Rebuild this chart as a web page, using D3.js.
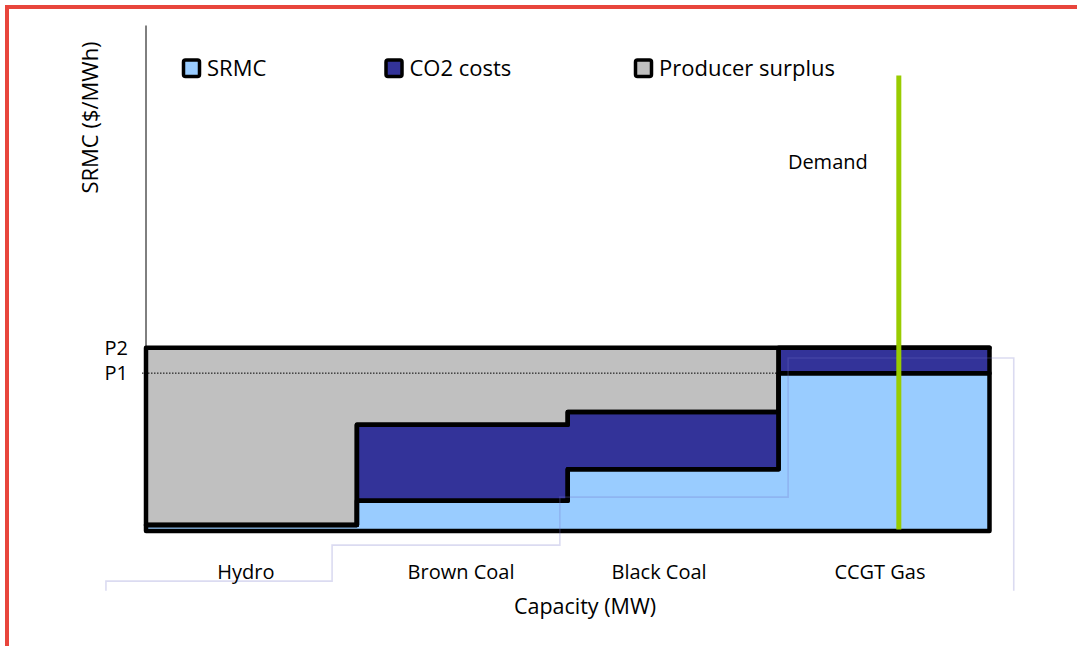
<!DOCTYPE html>
<html>
<head>
<meta charset="utf-8">
<script src="https://cdn.jsdelivr.net/npm/d3@7"></script>
<style>
  html, body { margin: 0; padding: 0; background: #ffffff; }
  svg { display: block; font-family: "Open Sans", "Noto Sans", sans-serif; }
</style>
</head>
<body>
<svg id="chart" width="1077" height="646"></svg>
<script>
// ---------------- data ----------------
const categories   = ["Hydro", "Brown Coal", "Black Coal", "CCGT Gas"];
const capacityMW   = [2000, 2000, 2000, 2000];
const srmcValues   = [1.2, 6, 12.2, 31.2];     // $/MWh
const co2Values    = [0, 15, 11.3, 5];         // $/MWh
const surplusValues = [35, 15.2, 12.7, 0];     // $/MWh (up to P2)
const priceLabels  = ["P2", "P1"];
const priceValues  = [36.2, 31.2];
const demandMW     = 7140;
const categoryTickMW = [948, 2988, 4866, 6961];
const seriesNames  = ["SRMC", "CO2 costs", "Producer surplus"];
// faint offset step outline visible in the original graphic
const ghostCapacityMW = [-380, 1765, 3925, 6090, 8230];
const ghostLevels     = [-9.9, -2.8, 6.7, 34.2];
const ghostEndLevel   = -11.8;

// ---------------- layout ----------------
const W = 1077, H = 646;
const colors = { "SRMC": "#99ccff", "CO2 costs": "#333399", "Producer surplus": "#c0c0c0" };
const legendBoxX = [183.5, 386, 635.5];

const svg = d3.select("#chart");
svg.append("rect").attr("width", W).attr("height", H).attr("fill", "#fff");

const totalMW = d3.sum(capacityMW);
const x = d3.scaleLinear().domain([0, totalMW]).range([146, 989.5]);
const y = d3.scaleLinear().domain([0, 100]).range([531, 25]);

// y axis (no ticks)
svg.append("g")
  .attr("transform", "translate(145.5,0)")
  .call(d3.axisLeft(y).tickValues([]).tickSizeOuter(0))
  .call(g => g.select(".domain").attr("stroke", "#000").attr("stroke-width", 1));

// stacked step areas
const rows = categories.map((c, i) => ({ category: c, "SRMC": srmcValues[i], "CO2 costs": co2Values[i], "Producer surplus": surplusValues[i] }));
const layers = d3.stack().keys(seriesNames)(rows);
const bounds = [0, ...Array.from(d3.cumsum(capacityMW))];

const area = d3.area()
  .curve(d3.curveStepAfter)
  .x(d => x(d.x)).y0(d => y(d.y0)).y1(d => y(d.y1));

const layerPts = layers.map(L => {
  const pts = L.map((d, i) => ({ x: bounds[i], y0: d[0], y1: d[1] }));
  const last = L[L.length - 1];
  pts.push({ x: bounds[bounds.length - 1], y0: last[0], y1: last[1] });
  return { key: L.key, pts };
});

const gAreas = svg.append("g");
gAreas.selectAll("path.fill").data(layerPts).join("path")
  .attr("class", "fill")
  .attr("d", d => area(d.pts))
  .attr("fill", d => colors[d.key]);

// P1 dotted line
svg.append("line")
  .attr("x1", x(0) - 4).attr("x2", x(bounds[3]) - 2)
  .attr("y1", y(priceValues[1])).attr("y2", y(priceValues[1]))
  .attr("stroke", "#000").attr("stroke-width", 1)
  .attr("stroke-dasharray", "1.5,1.5");

svg.append("g").selectAll("path.outline").data(layerPts).join("path")
  .attr("class", "outline")
  .attr("d", d => area(d.pts))
  .attr("fill", "none")
  .attr("stroke", "#000")
  .attr("stroke-width", 4.5)
  .attr("stroke-linejoin", "round");

// ghost step outline
const ghostPts = [{ x: ghostCapacityMW[0], v: ghostEndLevel }];
ghostLevels.forEach((v, i) => {
  ghostPts.push({ x: ghostCapacityMW[i], v });
  ghostPts.push({ x: ghostCapacityMW[i + 1], v });
});
ghostPts.push({ x: ghostCapacityMW[ghostCapacityMW.length - 1], v: ghostEndLevel });
svg.append("path")
  .attr("d", d3.line().x(d => x(d.x)).y(d => y(d.v))(ghostPts))
  .attr("fill", "none")
  .attr("stroke", "rgba(110,110,200,0.25)")
  .attr("stroke-width", 1.6);

// demand line
svg.append("line")
  .attr("x1", x(demandMW)).attr("x2", x(demandMW))
  .attr("y1", y(90)).attr("y2", y(0.3))
  .attr("stroke", "#99cc00").attr("stroke-width", 5);
svg.append("text")
  .attr("x", x(demandMW) - 71).attr("y", 169)
  .attr("text-anchor", "middle")
  .attr("font-size", 20).attr("fill", "#000")
  .text("Demand");

// price labels
svg.selectAll("text.price").data(priceLabels).join("text")
  .attr("class", "price")
  .attr("x", 128)
  .attr("y", (d, i) => y(priceValues[i]) + 7)
  .attr("text-anchor", "end")
  .attr("font-size", 20).attr("fill", "#000")
  .text(d => d);

// category labels
svg.selectAll("text.cat").data(categories).join("text")
  .attr("class", "cat")
  .attr("x", (d, i) => x(categoryTickMW[i]))
  .attr("y", 579)
  .attr("text-anchor", "middle")
  .attr("font-size", 20).attr("fill", "#000")
  .text(d => d);

// axis titles
svg.append("text")
  .attr("x", 585).attr("y", 614)
  .attr("text-anchor", "middle")
  .attr("font-size", 21.5).attr("fill", "#000")
  .text("Capacity (MW)");
svg.append("text")
  .attr("transform", "translate(98,117.5) rotate(-90)")
  .attr("text-anchor", "middle")
  .attr("font-size", 22).attr("fill", "#000")
  .text("SRMC ($/MWh)");

// legend
const lg = svg.selectAll("g.leg").data(seriesNames).join("g").attr("class", "leg");
lg.append("rect")
  .attr("x", (d, i) => legendBoxX[i]).attr("y", 60)
  .attr("width", 16).attr("height", 16.5).attr("rx", 2)
  .attr("fill", d => colors[d])
  .attr("stroke", "#000").attr("stroke-width", 3.5);
lg.append("text")
  .attr("x", (d, i) => legendBoxX[i] + 23.5).attr("y", 76)
  .attr("font-size", 22).attr("fill", "#000")
  .text(d => d);

// red frame
svg.append("rect")
  .attr("x", 7).attr("y", 7).attr("width", W + 20).attr("height", H + 20)
  .attr("fill", "none").attr("stroke", "#e8453c").attr("stroke-width", 4);
</script>
</body>
</html>
